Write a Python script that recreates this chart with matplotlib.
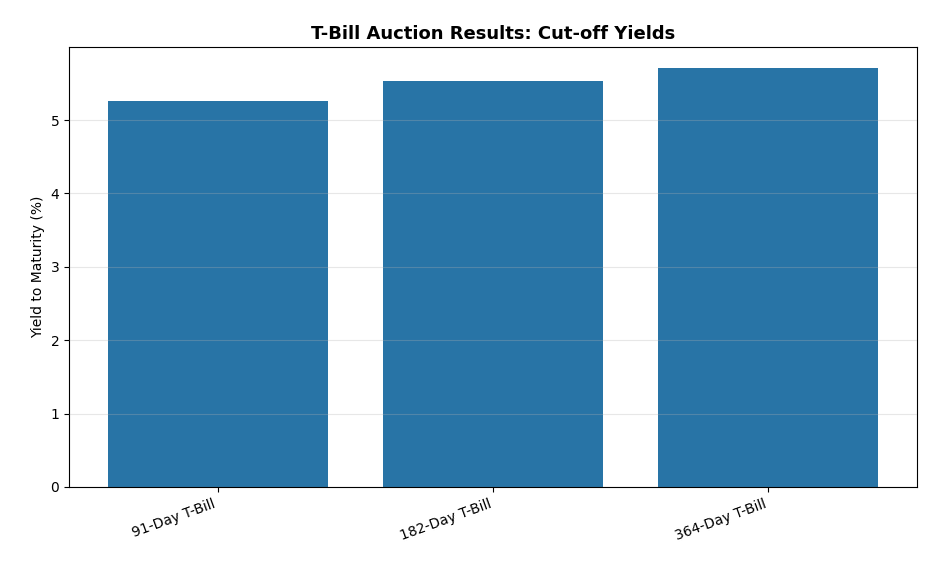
import matplotlib
matplotlib.use("Agg")
import matplotlib.pyplot as plt

categories = ["91-Day T-Bill", "182-Day T-Bill", "364-Day T-Bill"]
yields = [5.26, 5.53, 5.71]

fig = plt.figure(figsize=(9.36, 5.72), dpi=100)
ax = fig.add_axes([69/936, 1-487/572, (917-69)/936, (487-47)/572])
x = range(len(categories))
ax.bar(x, yields, width=0.8, color="#2874a6", zorder=2)
ax.set_xticks(list(x))
ax.set_xticklabels(categories, rotation=20, ha="right")
ax.set_ylabel("Yield to Maturity (%)")
ax.set_title("T-Bill Auction Results: Cut-off Yields", fontweight="bold", fontsize=13)
ax.yaxis.grid(True, alpha=0.3, zorder=0)
ax.set_axisbelow(False)
ax.set_ylim(0, 5.71*1.05)
fig.savefig("out.png", dpi=100)
